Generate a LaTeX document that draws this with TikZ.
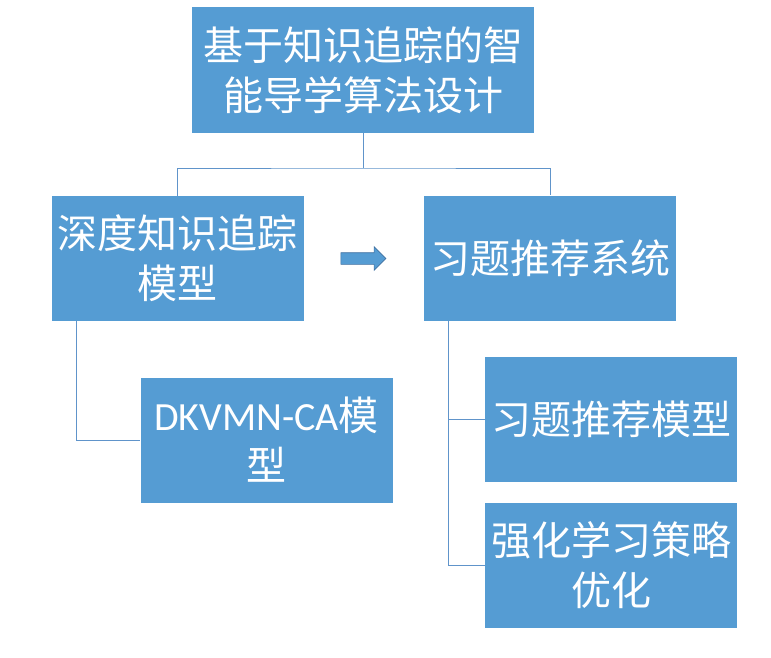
\documentclass[tikz,border=0pt]{standalone}
\usepackage{fontspec}
\setmainfont{Carlito}
\newfontfamily\cjk{Noto Sans CJK SC}
\usepackage{xcolor}
\usepackage{tikz}
\usetikzlibrary{shapes,arrows,positioning,calc}
\definecolor{boxblue}{RGB}{85, 156, 211}
\definecolor{linkblue}{RGB}{96, 148, 202}
\definecolor{arrowedge}{RGB}{65, 113, 160}

\begin{document}
\begin{tikzpicture}[x=1pt,y=-1pt,
    box/.style={fill=boxblue, text=white, inner sep=0pt, align=center,
        minimum width=252pt, minimum height=125pt,
        font=\cjk\fontsize{40}{50}\selectfont},
    link/.style={draw=linkblue, line width=0.8pt}]
    \useasboundingbox (0,0) rectangle (771,658);
    % top level: the whole design
    \node[box, minimum width=342pt, minimum height=126pt] (design) at (363,70) {基于知识追踪的智\\能导学算法设计};

    % the two parts
    \node[box] (dkt) at (177.5,258.5) {深度知识追踪\\模型};
    \node[box] (rec) at (550,258) {习题推荐系统};
    \node[single arrow, draw=arrowedge, fill=boxblue, line width=0.6pt, inner sep=5.5pt,
        minimum height=45pt, minimum width=23pt, single arrow head extend=6pt] (flow) at (360.5,258.5) {};

    % children
    \node[box] (dkvmn) at (266.5,440) {{\fontspec{Carlito}DKVMN-CA}模\\型};
    \node[box] (recmodel) at (611,419.5) {习题推荐模型};
    \node[box] (rlopt) at (611,565.5) {强化学习策略\\优化};

    % connectors
    \coordinate (bus) at (363,168);
    \draw[link] (design.south) -- (bus);
    \draw[link] (dkt.north) |- (bus) -| (rec.north);
    \draw[link] ($(dkt.south west)+(25,0)$) |- (dkvmn.west);
    \draw[link] ($(rec.south west)+(25,0)$) |- (recmodel.west);
    \draw[link] ($(rec.south west)+(25,0)$) |- (rlopt.west);
\end{tikzpicture}
\end{document}
